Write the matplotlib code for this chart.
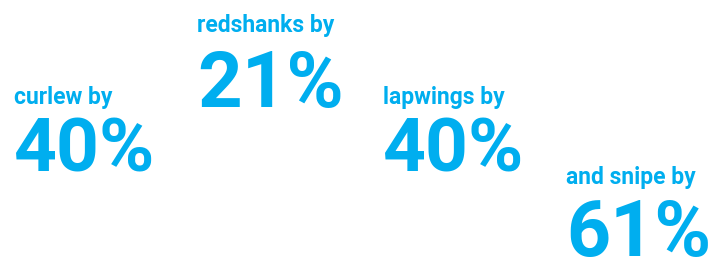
import matplotlib
matplotlib.use("Agg")
import matplotlib.pyplot as plt

# Decline per bird species
species = ["curlew", "redshanks", "lapwings", "and snipe"]
declines = [40, 21, 40, 61]

# layout (pixel positions: left x, label baseline y, number baseline y)
left_px = [14, 197, 383, 566]
label_base_px = [104, 32, 104, 184]
num_base_px = [172, 107, 172, 256]
num_size = [54, 56, 54, 55.5]

W, H = 710, 259
BLUE = "#00AEEF"
FAMILY = ["Roboto", "DejaVu Sans"]

fig = plt.figure(figsize=(W / 100, H / 100), dpi=100, facecolor="white")

for name, val, x, yl, yn, fs in zip(species, declines, left_px, label_base_px,
                                    num_base_px, num_size):
    fig.text(x / W, 1 - yl / H, f"{name} by", family=FAMILY, fontweight="bold",
             fontsize=16.5, color=BLUE, ha="left", va="baseline")
    fig.text(x / W, 1 - yn / H, f"{val}%", family=FAMILY, fontweight="bold",
             fontsize=fs, color=BLUE, ha="left", va="baseline")

fig.savefig("out.png", dpi=100, facecolor="white")
